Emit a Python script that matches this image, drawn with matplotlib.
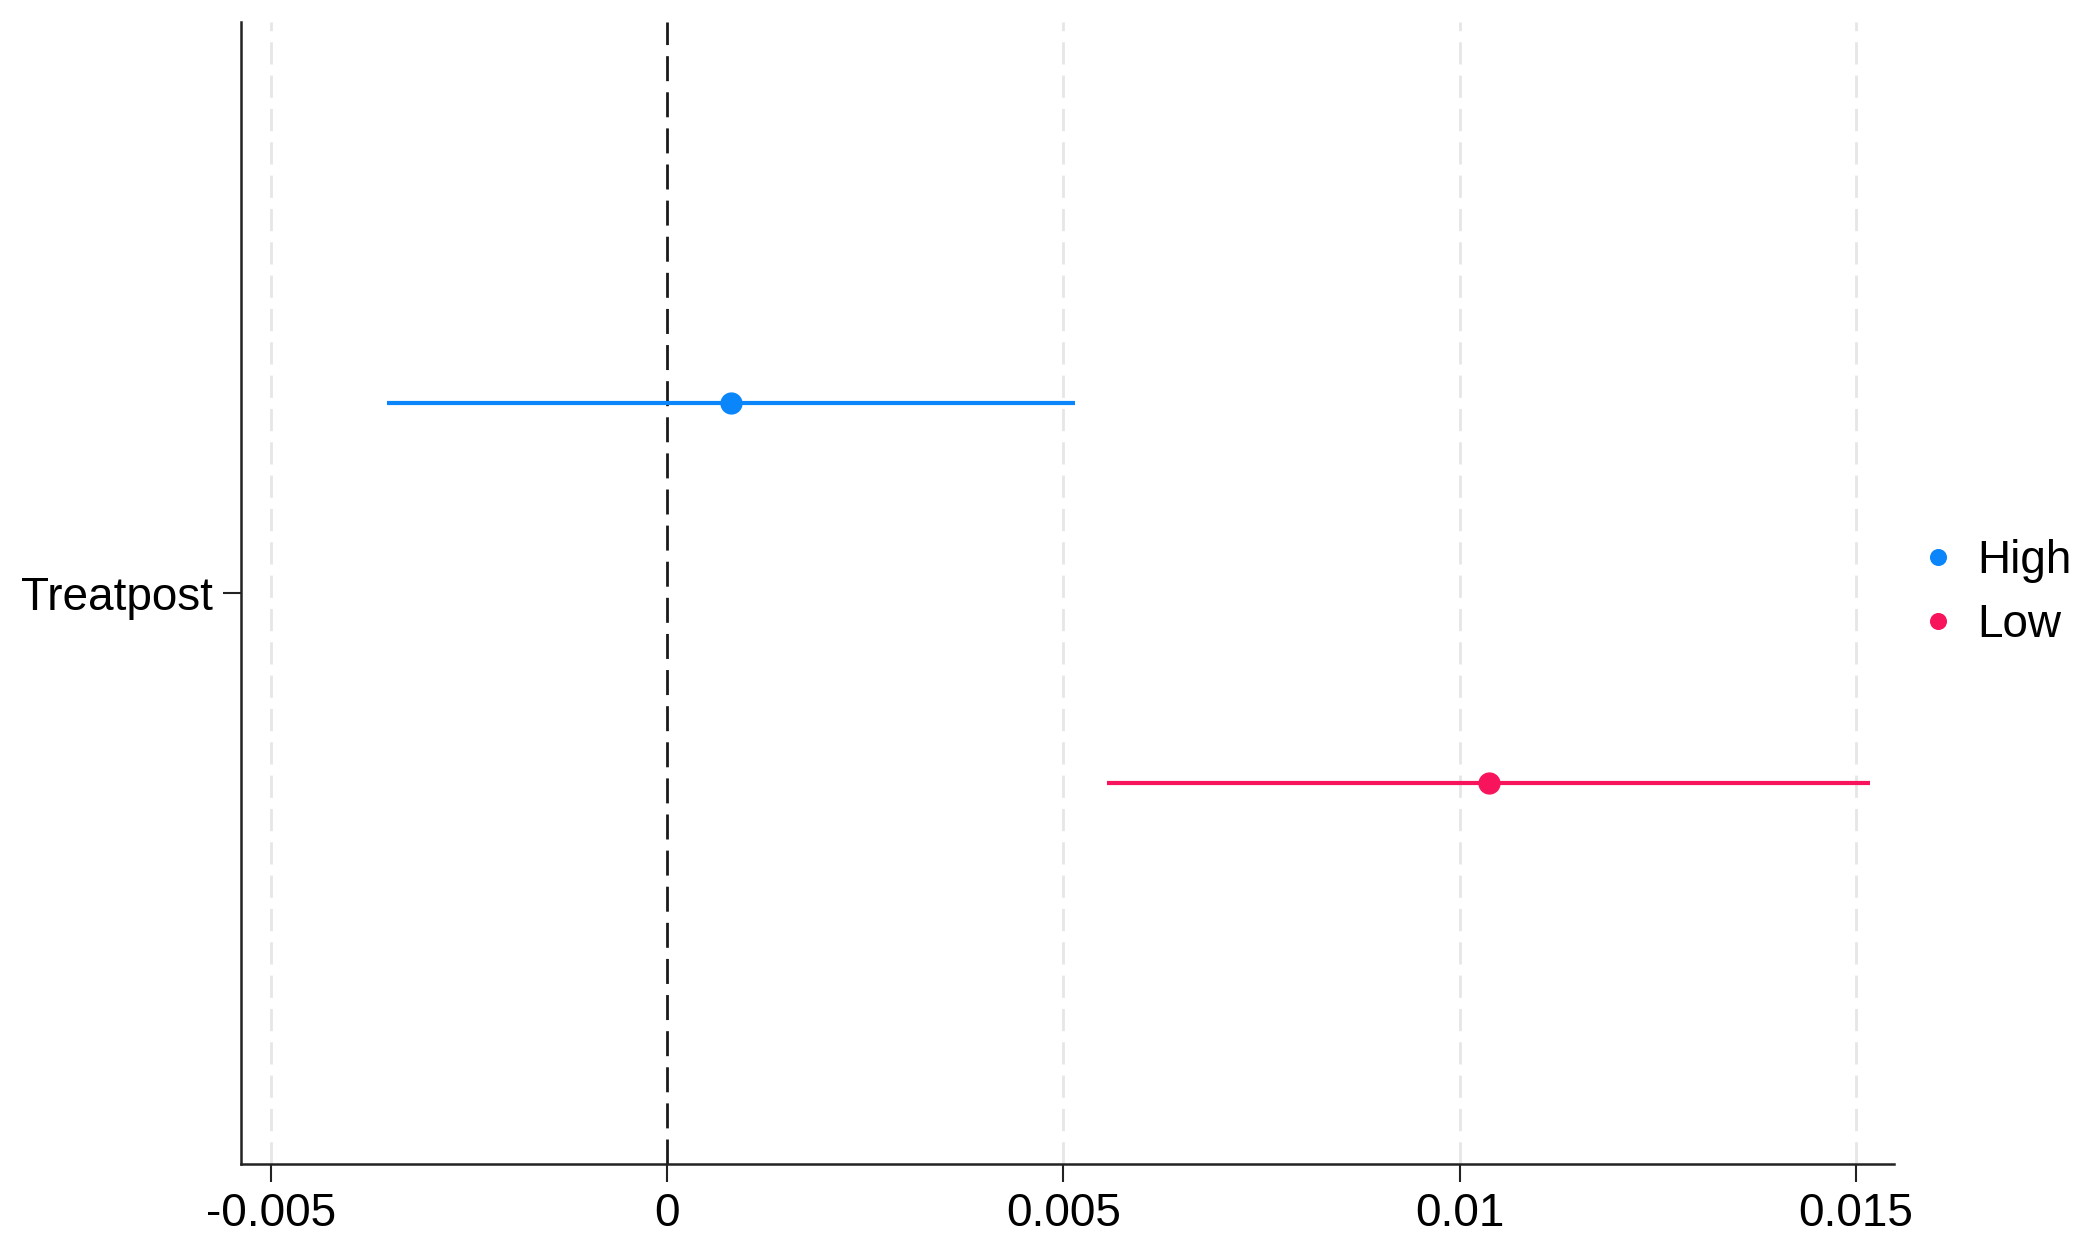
import matplotlib.pyplot as plt

plt.rcParams['font.family'] = ['Liberation Sans', 'DejaVu Sans']

# estimates and confidence bounds
groups = ['High', 'Low']
coef = [0.0008, 0.01037]
ci_low = [-0.00354, 0.00555]
ci_high = [0.00515, 0.01518]
colors = ['#0A86FA', '#F8145C']
offsets = [0.25, -0.25]

xticks = [-0.005, 0, 0.005, 0.01, 0.015]
xticklabels = ['-0.005', '0', '0.005', '0.01', '0.015']

fig = plt.figure(figsize=(20.84, 12.56), dpi=100)
ax = fig.add_axes([0.1156, 0.0732, 0.7932, 0.9093])

for xv in xticks:
    if xv != 0:
        ax.axvline(xv, color='#e6e6e6', lw=2, ls=(0, (8, 4)), zorder=0)
ax.axvline(0, color='#1a1a1a', lw=2, ls=(0, (9, 4)), zorder=1)

for g, c, lo, hi, col, y in zip(groups, coef, ci_low, ci_high, colors, offsets):
    ax.hlines(y, lo, hi, color=col, lw=3, zorder=2)
    ax.plot(c, y, 'o', color=col, ms=15, zorder=3, label=g)

ax.set_xlim(-0.00538, 0.01548)
ax.set_ylim(-0.75, 0.75)
ax.set_xticks(xticks)
ax.set_xticklabels(xticklabels)
ax.set_yticks([0])
ax.set_yticklabels(['Treatpost'])
ax.tick_params(axis='both', labelsize=33, length=13, width=1.5, pad=7, color='#222222')

for s in ['top', 'right']:
    ax.spines[s].set_visible(False)
for s in ['left', 'bottom']:
    ax.spines[s].set_linewidth(1.8)
    ax.spines[s].set_color('#222222')

ax.legend(loc='center left', bbox_to_anchor=(0.985, 0.5), frameon=False,
          fontsize=33, handletextpad=0.25, handlelength=1.2,
          labelspacing=0.42, markerscale=0.75)

fig.savefig('out.png', dpi=100)
